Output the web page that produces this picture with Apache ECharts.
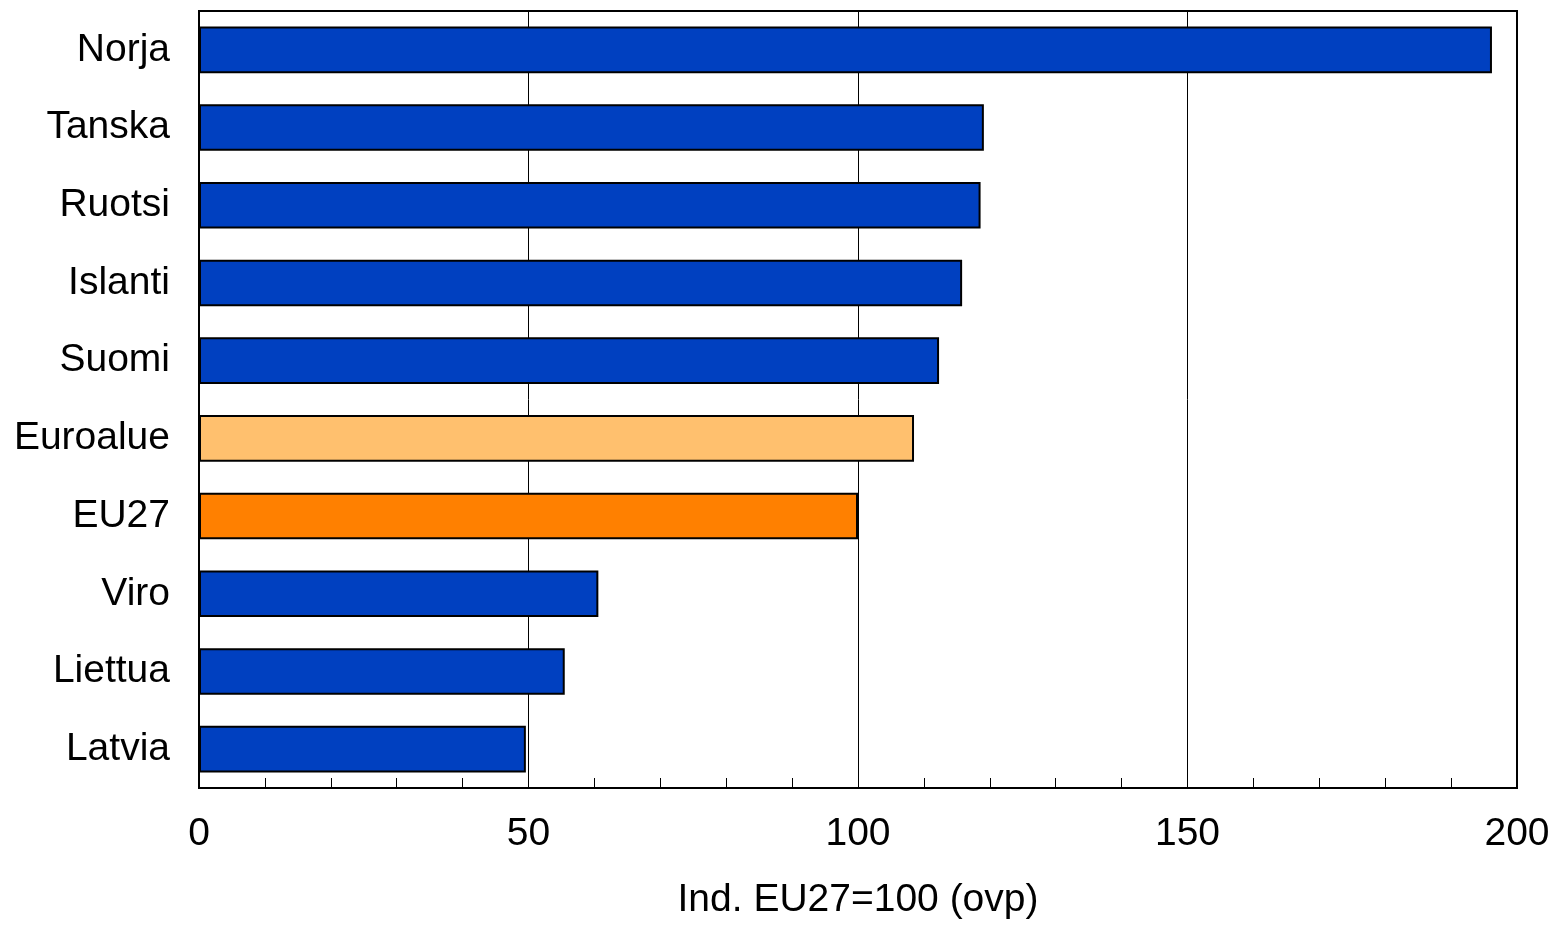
<!DOCTYPE html>
<html>
<head>
<meta charset="utf-8">
<script src="https://cdn.jsdelivr.net/npm/echarts@6/dist/echarts.min.js"></script>
<style>html,body{margin:0;padding:0;background:#fff}#c{width:1554px;height:925px}</style>
</head>
<body>
<div id="c"></div>
<script>
const categories = ["Norja","Tanska","Ruotsi","Islanti","Suomi","Euroalue","EU27","Viro","Liettua","Latvia"];
const values = [196.2,119.1,118.6,115.8,112.3,108.5,100,60.6,55.5,49.6];
const barColors = ["#0040C0","#0040C0","#0040C0","#0040C0","#0040C0","#FFC06E","#FF8000","#0040C0","#0040C0","#0040C0"];
const xTicks = [0,50,100,150,200];
const xTitle = "Ind. EU27=100 (ovp)";

const chart = echarts.init(document.getElementById('c'));
chart.setOption({
  animation:false,
  backgroundColor:'#fff',
  textStyle:{fontFamily:'Liberation Sans, Arial, sans-serif'},
  grid:{left:199,right:37,top:11,bottom:134,show:true,borderColor:'#000',borderWidth:2,backgroundColor:'transparent'},
  xAxis:{
    type:'value',min:xTicks[0],max:xTicks[xTicks.length-1],interval:50,
    axisLine:{show:true,lineStyle:{color:'#000',width:2}},
    axisTick:{show:true,inside:true,length:10,lineStyle:{color:'#000',width:1}},
    minorTick:{show:true,splitNumber:5,length:10,lineStyle:{color:'#000',width:1}},
    splitLine:{show:true,lineStyle:{color:'#000',width:1}},
    axisLabel:{color:'#000',fontSize:39,margin:27,lineHeight:39},
    name:xTitle,nameLocation:'middle',nameGap:93,
    nameTextStyle:{color:'#000',fontSize:39,lineHeight:39,verticalAlign:'top'}
  },
  yAxis:{
    type:'category',data:categories,inverse:true,
    axisLine:{show:true,lineStyle:{color:'#000',width:2}},
    axisTick:{show:false},
    splitLine:{show:false},
    axisLabel:{color:'#000',fontSize:39,margin:29}
  },
  series:[{
    type:'bar',
    barCategoryGap:'40%',
    data:values.map((v,i)=>({value:v,itemStyle:{color:barColors[i],borderColor:'#000',borderWidth:2}}))
  }]
});
</script>
</body>
</html>
